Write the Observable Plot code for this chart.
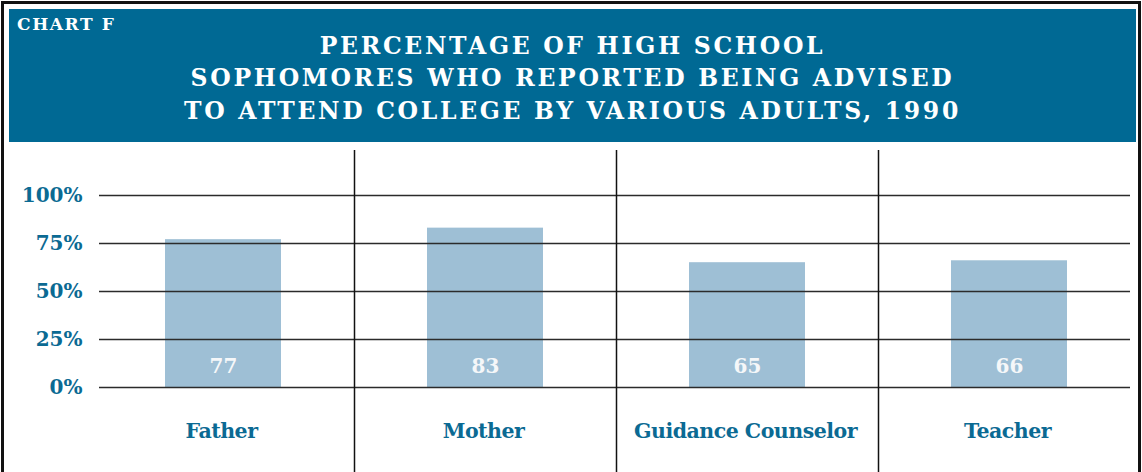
<!DOCTYPE html>
<html><head><meta charset="utf-8">
<script src="https://cdn.jsdelivr.net/npm/d3@7"></script>
<script src="https://cdn.jsdelivr.net/npm/@observablehq/plot@0.6"></script>
<style>
body{margin:0;background:#fff;}
#wrap{position:relative;width:1142px;height:472px;overflow:hidden;font-family:"DejaVu Serif",serif;}
#frame{position:absolute;left:1px;top:1px;width:1134px;height:480px;border:3px solid #111;}
#header{position:absolute;left:9px;top:9px;width:1127px;height:133px;background:#006994;color:#fff;}
#chartf{position:absolute;left:8px;top:7px;font-size:17px;line-height:16px;font-weight:bold;letter-spacing:1.6px;white-space:nowrap;}
#title{position:absolute;left:0;right:0;top:21px;text-align:center;font-size:23.5px;line-height:32.3px;font-weight:bold;letter-spacing:2.7px;white-space:nowrap;}
#plot{position:absolute;left:0;top:142px;}
</style></head>
<body>
<div id="wrap">
  <div id="frame"></div>
  <div id="header">
    <div id="chartf">CHART F</div>
    <div id="title"></div>
  </div>
  <div id="plot"></div>
</div>
<script>
const chartLabel = "CHART F";
const titleLines = ["PERCENTAGE OF HIGH SCHOOL", "SOPHOMORES WHO REPORTED BEING ADVISED", "TO ATTEND COLLEGE BY VARIOUS ADULTS, 1990"];
const categories = ["Father", "Mother", "Guidance Counselor", "Teacher"];
const values = [77, 83, 65, 66];
const yTicks = [0, 25, 50, 75, 100];
const yTickLabels = ["0%", "25%", "50%", "75%", "100%"];

document.getElementById("chartf").textContent = chartLabel;
const t = document.getElementById("title");
titleLines.forEach(l => { const d = document.createElement("div"); d.textContent = l; t.appendChild(d); });

const data = categories.map((c, i) => ({category: c, value: values[i]}));
const blueText = "#0b6a93";
const font = "DejaVu Serif";

const chart = Plot.plot({
  width: 1142, height: 330,
  marginTop: 53, marginBottom: 85, marginLeft: 99, marginRight: 12,
  style: {fontFamily: font, background: "transparent", overflow: "visible"},
  x: {domain: categories, range: [92, 1140], padding: 0, axis: null},
  y: {domain: [0, 100], axis: null},
  marks: [
    Plot.barY(data, {x: "category", y: "value", fill: "#9ebfd5", insetLeft: 73, insetRight: 73}),
    Plot.ruleY(yTicks, {stroke: "#2b2b2b", strokeWidth: 1.6}),
    Plot.ruleX(categories.slice(1), {x: d => d, dx: -131, stroke: "#111", strokeWidth: 1.5, insetTop: -45, insetBottom: -90}),
    Plot.text(data, {x: "category", y: 0, text: d => String(d.value), dy: -21, fill: "#f5f7f9", fontSize: 20, fontWeight: "bold"}),
    Plot.text(yTicks, {y: d => d, text: (d, i) => yTickLabels[i], frameAnchor: "left", dx: -17, textAnchor: "end", fill: blueText, fontSize: 20, fontWeight: "bold"}),
    Plot.text(categories, {x: d => d, frameAnchor: "bottom", dy: 50, dx: -2, fill: blueText, fontSize: 20.5, fontWeight: "bold"})
  ]
});
// tighten category label tracking like the original
const textGroups = chart.querySelectorAll('g[aria-label="text"]');
if (textGroups.length) textGroups[textGroups.length - 1].setAttribute("letter-spacing", "-0.5px");
document.getElementById("plot").appendChild(chart);
</script>
</body></html>
